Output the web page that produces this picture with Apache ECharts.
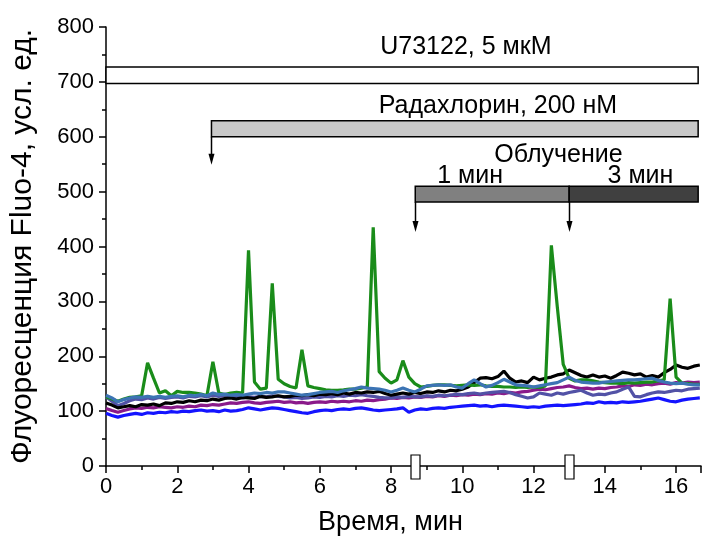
<!DOCTYPE html>
<html>
<head>
<meta charset="utf-8">
<script src="https://cdn.jsdelivr.net/npm/echarts@6/dist/echarts.min.js"></script>
<style>
  html, body { margin: 0; padding: 0; background: #fff; }
  #chart { width: 703px; height: 541px; }
</style>
</head>
<body>
<div id="chart"></div>
<script>
// Fluo-4 fluorescence of single cells, one frame every 10 s
const sampleStepMin = 1 / 6;

const cellGreen = [
  126, 122, 118, 122, 125, 126, 128, 188, 160, 133,
  137, 128, 136, 134, 134, 133, 131, 128, 190, 133,
  130, 133, 134, 133, 393, 153, 140, 142, 333, 158,
  150, 145, 142, 212, 146, 143, 141, 139, 138, 138,
  139, 140, 140, 142, 144, 435, 172, 160, 151, 157,
  192, 162, 150, 144, 145, 147, 148, 148, 147, 146,
  147, 148, 147, 148, 146, 145, 145, 144, 144, 143,
  144, 143, 144, 143, 146, 402, 290, 185, 160, 155,
  157, 157, 155, 153, 152, 151, 151, 150, 152, 151,
  152, 153, 153, 155, 157, 305, 162, 151, 150, 149,
  149
];
const cellBlack = [
  115, 111, 106, 108, 110, 108, 112, 111, 113, 110,
  115, 114, 117, 116, 119, 117, 120, 119, 122, 120,
  123, 124, 122, 125, 124, 123, 127, 125, 126, 128,
  126, 127, 129, 128, 130, 128, 131, 130, 132, 130,
  133, 131, 134, 133, 135, 134, 136, 132, 129, 131,
  133, 131, 134, 132, 135, 134, 137, 135, 138, 137,
  140, 144, 152, 160, 161, 159, 163, 173, 160, 153,
  155, 152, 162, 157, 160, 162, 166, 168, 175, 170,
  165, 162, 166, 162, 164, 160, 165, 171, 169, 166,
  168, 162, 165, 162, 170, 176, 184, 180, 178, 182,
  184
];
const cellSteel = [
  129, 124, 117, 121, 124, 126, 125, 127, 125, 127,
  125, 127, 128, 126, 129, 128, 130, 128, 133, 130,
  131, 129, 130, 129, 131, 133, 132, 134, 133, 135,
  135, 133, 131, 129, 130, 132, 134, 135, 136, 134,
  137, 139, 141, 144, 142, 141, 140, 138, 135, 138,
  142, 138, 135, 140, 146, 147, 148, 147, 148, 144,
  142, 150, 157, 150, 144, 147, 152, 158, 153, 148,
  147, 146, 144, 146, 148, 150, 152, 157, 162, 156,
  153, 152, 151, 151, 153, 154, 155, 156, 157, 157,
  158, 159, 160, 156, 153, 151, 150, 151, 149, 148,
  148
];
const cellSlate = [
  126, 118, 110, 114, 119, 122, 121, 124, 122, 125,
  123, 125, 126, 124, 127, 126, 128, 126, 129, 127,
  128, 126, 125, 124, 126, 125, 127, 126, 128, 127,
  126, 124, 125, 123, 124, 126, 125, 127, 126, 128,
  127, 129, 128, 130, 128, 127, 125, 124, 124, 126,
  125, 127, 126, 126, 128, 127, 129, 128, 129, 131,
  130, 132, 133, 131, 133, 134, 135, 136, 134, 130,
  127, 124, 126, 133, 131, 129, 133, 131, 134, 136,
  138, 133, 129, 131, 130, 133, 135, 140, 144, 127,
  126, 130, 133, 135, 134, 136, 138, 137, 140, 141,
  142
];
const cellPurple = [
  105, 101, 98, 101, 104, 106, 105, 107, 106, 108,
  107, 106, 108, 107, 109, 108, 111, 110, 112, 111,
  113, 115, 114, 116, 117, 115, 114, 116, 117, 118,
  116, 117, 115, 116, 114, 116, 117, 116, 118, 117,
  118, 117, 119, 118, 120, 119, 121, 122, 124, 123,
  125, 124, 126, 125, 127, 126, 128, 127, 129, 128,
  130, 129, 131, 130, 132, 131, 133, 132, 134, 133,
  135, 136, 138, 140, 139, 141, 143, 144, 146, 143,
  141, 142, 140, 142, 141, 143, 144, 146, 145, 148,
  147, 149, 148, 150, 151, 149, 152, 151, 153, 152,
  153
];
const cellBlue = [
  96, 92, 89, 92, 94, 96, 94, 97, 96, 98,
  97, 99, 98, 100, 99, 101, 102, 100, 101, 99,
  102, 100, 101, 103, 106, 104, 102, 104, 106, 105,
  103, 101, 99, 97, 96, 99, 101, 102, 101, 103,
  104, 103, 105, 106, 104, 102, 101, 102, 103, 104,
  106, 98, 102, 104, 103, 105, 106, 105, 107, 108,
  109, 110, 111, 109, 110, 108, 110, 111, 110, 109,
  108, 107, 108, 107, 109, 110, 111, 110, 111, 112,
  113, 115, 114, 117, 115, 116, 115, 117, 116, 117,
  118, 120, 122, 124, 121, 118, 117, 120, 122, 123,
  124
];

// Treatment periods, min, and the band each bar occupies on the value axis
const agentNames = ['U73122, 5 мкМ', 'Радахлорин, 200 нМ'];
const agentStart = [0, 2.96];
const agentEnd = [16.62, 16.62];
const agentLow = [697, 600];
const agentHigh = [727, 629];

const irradiationTitle = 'Облучение';
const irradiationNames = ['1 мин', '3 мин'];
const irradiationStart = [8.68, 13.0];
const irradiationEnd = [13.0, 16.62];
const irradiationLow = 481;
const irradiationHigh = 510;

const xTickLabels = [0, 2, 4, 6, 8, 10, 12, 14, 16];
const yTickLabels = [0, 100, 200, 300, 400, 500, 600, 700, 800];

// ---- drawing ----
const FONT = '"Liberation Sans", Arial, Helvetica, sans-serif';
const timeOf = (i) => +(i * sampleStepMin).toFixed(4);
const toPoints = (arr) => arr.map((v, i) => [timeOf(i), v]);

const traces = [
  { name: 'blue', data: cellBlue, color: '#1414ff' },
  { name: 'purple', data: cellPurple, color: '#8a1a8a' },
  { name: 'slate', data: cellSlate, color: '#5252a6' },
  { name: 'black', data: cellBlack, color: '#000000' },
  { name: 'green', data: cellGreen, color: '#1a8c1a' },
  { name: 'steel', data: cellSteel, color: '#3c74b4' }
];

const lineSeries = traces.map((t) => ({
  type: 'line',
  name: t.name,
  data: toPoints(t.data),
  showSymbol: false,
  symbol: 'none',
  lineStyle: { color: t.color, width: 3.2 },
  z: 3,
  animation: false
}));

const barFills = ['#ffffff', '#c8c8c8', '#808080', '#404040'];
const barRows = [];
agentStart.forEach((s, i) => barRows.push([s, agentEnd[i], agentLow[i], agentHigh[i]]));
irradiationStart.forEach((s, i) => barRows.push([s, irradiationEnd[i], irradiationLow, irradiationHigh]));

const barsSeries = {
  type: 'custom',
  name: 'periods',
  data: barRows,
  encode: { x: [0, 1], y: [2, 3] },
  clip: false,
  z: 5,
  animation: false,
  renderItem(params, api) {
    const a = api.coord([api.value(0), api.value(3)]);
    const b = api.coord([api.value(1), api.value(2)]);
    return {
      type: 'rect',
      shape: { x: a[0], y: a[1], width: b[0] - a[0], height: b[1] - a[1] },
      style: { fill: barFills[params.dataIndex], stroke: '#000', lineWidth: 1.5 }
    };
  }
};

// arrows drop from the start of radachlorin and of each irradiation step
const arrowRows = [
  [agentStart[1], agentLow[1]],
  [irradiationStart[0], irradiationLow],
  [irradiationStart[1], irradiationLow]
];
const arrowLen = [28, 30, 30];
const arrowSeries = {
  type: 'custom',
  name: 'arrows',
  data: arrowRows,
  encode: { x: 0, y: 1 },
  clip: false,
  z: 6,
  animation: false,
  renderItem(params, api) {
    const p = api.coord([api.value(0), api.value(1)]);
    const len = arrowLen[params.dataIndex];
    const x = Math.round(p[0]) + 0.5;
    const y0 = p[1];
    const y1 = p[1] + len;
    return {
      type: 'group',
      children: [
        { type: 'line', shape: { x1: x, y1: y0, x2: x, y2: y1 - 6 }, style: { stroke: '#000', lineWidth: 1.5 } },
        { type: 'polygon', shape: { points: [[x - 3, y1 - 11], [x + 3, y1 - 11], [x, y1]] }, style: { fill: '#000' } }
      ]
    };
  }
};

// text anchors (time, value) for the period captions
const captionRows = [
  [10.1, 763, agentNames[0]],
  [11.0, 656, agentNames[1]],
  [12.7, 567, irradiationTitle],
  [10.22, 529, irradiationNames[0]],
  [15.0, 529, irradiationNames[1]]
];
const captionSeries = {
  type: 'custom',
  name: 'captions',
  data: captionRows,
  encode: { x: 0, y: 1 },
  clip: false,
  z: 6,
  animation: false,
  renderItem(params, api) {
    const p = api.coord([api.value(0), api.value(1)]);
    return {
      type: 'text',
      x: p[0], y: p[1],
      style: {
        text: captionRows[params.dataIndex][2],
        fill: '#000', font: '25px ' + FONT,
        align: 'center', verticalAlign: 'middle'
      }
    };
  }
};

// axis-break marks at the irradiation switch points
const breakSeries = {
  type: 'custom',
  name: 'breaks',
  data: irradiationStart.map((t) => [t, 0]),
  encode: { x: 0, y: 1 },
  clip: false,
  z: 7,
  animation: false,
  renderItem(params, api) {
    const p = api.coord([api.value(0), api.value(1)]);
    return {
      type: 'rect',
      shape: { x: Math.round(p[0]) - 4, y: p[1] - 11, width: 9, height: 24 },
      style: { fill: '#fff', stroke: '#000', lineWidth: 1.2 }
    };
  }
};

const chart = echarts.init(document.getElementById('chart'), null, { renderer: 'canvas' });
chart.setOption({
  animation: false,
  backgroundColor: '#fff',
  grid: { left: 105, right: 2, top: 27, bottom: 75, containLabel: false },
  xAxis: {
    type: 'value',
    min: 0,
    max: 16.7,
    interval: 2,
    name: 'Время, мин',
    nameLocation: 'middle',
    nameGap: 43,
    nameTextStyle: { fontFamily: FONT, fontSize: 27, color: '#000', padding: [0, 26, 0, 0] },
    axisLine: { show: true, onZero: false, lineStyle: { color: '#000', width: 1.5 } },
    axisTick: { show: true, inside: false, length: 7, lineStyle: { color: '#000', width: 1.5 } },
    minorTick: { show: true, splitNumber: 2, length: 4, lineStyle: { color: '#000', width: 1.5 } },
    splitLine: { show: false },
    axisLabel: {
      color: '#000', fontFamily: FONT, fontSize: 22, margin: 10,
      showMaxLabel: false,
      formatter: (v) => (xTickLabels.includes(v) ? String(v) : '')
    }
  },
  yAxis: {
    type: 'value',
    min: 0,
    max: 800,
    interval: 100,
    name: 'Флуоресценция Fluo-4, усл. ед.',
    nameLocation: 'middle',
    nameGap: 68,
    nameTextStyle: { fontFamily: FONT, fontSize: 30, color: '#000' },
    axisLine: { show: true, onZero: false, lineStyle: { color: '#000', width: 1.5 } },
    axisTick: { show: true, inside: false, length: 7, lineStyle: { color: '#000', width: 1.5 } },
    minorTick: { show: true, splitNumber: 2, length: 4, lineStyle: { color: '#000', width: 1.5 } },
    splitLine: { show: false },
    axisLabel: {
      color: '#000', fontFamily: FONT, fontSize: 22, margin: 12,
      formatter: (v) => (yTickLabels.includes(v) ? String(v) : '')
    }
  },
  series: [...lineSeries, barsSeries, arrowSeries, captionSeries, breakSeries]
});
</script>
</body>
</html>
